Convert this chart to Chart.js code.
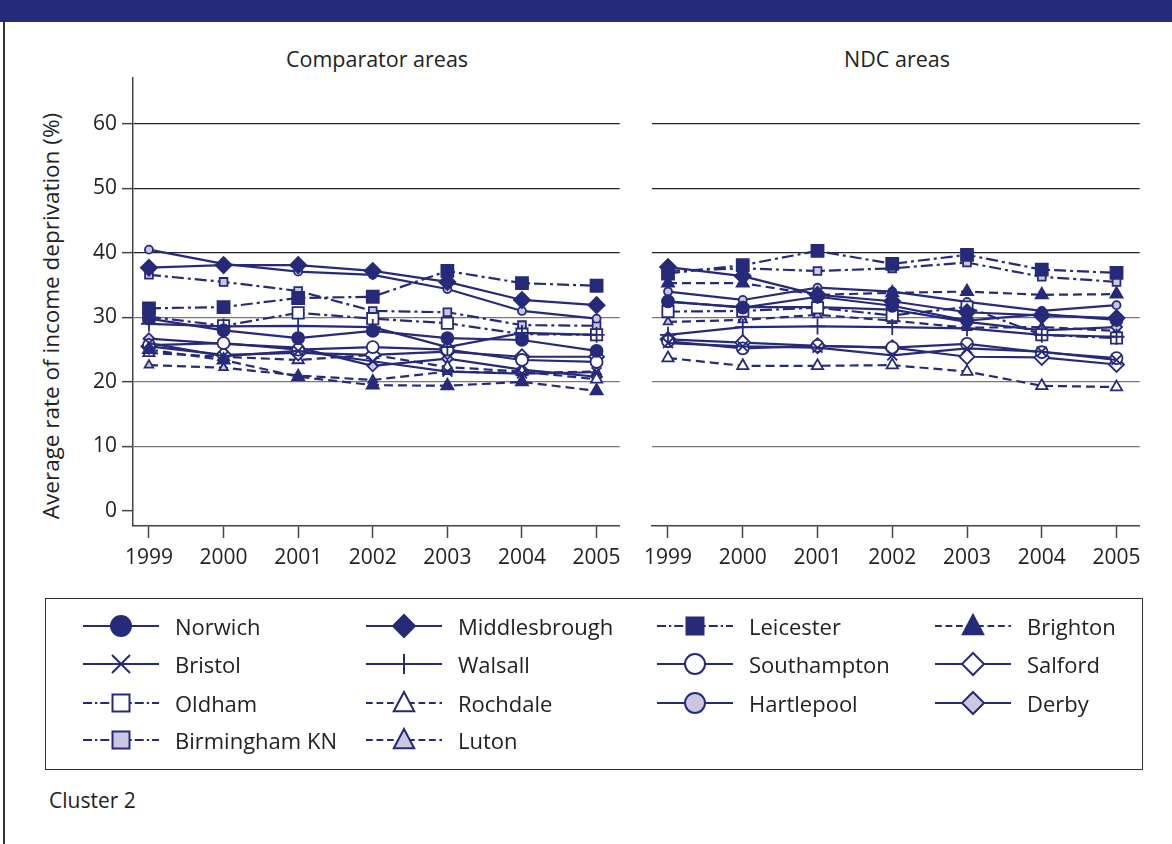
<!DOCTYPE html>
<html>
<head>
<meta charset="utf-8">
<script src="https://cdn.jsdelivr.net/npm/chart.js@4.4.0/dist/chart.umd.min.js"></script>
<style>
  body { margin: 0; width: 1172px; height: 844px; background: #fff; overflow: hidden;
         position: relative; font-family: "Open Sans", "Noto Sans", sans-serif; color: #222; }
  #topbar { position: absolute; left: 0; top: 0; width: 1172px; height: 22px; background: #262a78; }
  #leftrule { position: absolute; left: 3px; top: 22px; width: 2px; height: 822px; background: #333; }
  .panel-title { position: absolute; top: 44px; font-size: 21.5px; transform: translateX(-50%); white-space: nowrap; }
  #ytitle { position: absolute; left: 50px; top: 316px; font-size: 22.5px; white-space: nowrap;
            transform: translate(-50%, -50%) rotate(-90deg); }
  canvas { position: absolute; top: 0; }
  #legend { position: absolute; left: 45px; top: 598px; width: 1096px; height: 170px; border: 1.5px solid #333; }
  .lg-item { position: absolute; height: 30px; display: flex; align-items: center; font-size: 22px; white-space: nowrap; }
  .lg-item canvas { position: static; margin-right: 16px; }
  #cluster { position: absolute; left: 49px; top: 786px; font-size: 21px; }
</style>
</head>
<body>
<div id="topbar"></div>
<div id="leftrule"></div>
<div class="panel-title" style="left:377px">Comparator areas</div>
<div class="panel-title" style="left:897px">NDC areas</div>
<div id="ytitle">Average rate of income deprivation (%)</div>
<canvas id="cmp" width="630" height="600" style="left:0px"></canvas>
<canvas id="ndc" width="520" height="600" style="left:630px"></canvas>
<div id="legend"></div>
<div id="cluster">Cluster 2</div>

<script>
// ---- data ----
const years = [1999, 2000, 2001, 2002, 2003, 2004, 2005];
const yTicks = [0, 10, 20, 30, 40, 50, 60];

const areaNames = ['Norwich', 'Middlesbrough', 'Leicester', 'Brighton',
                   'Bristol', 'Walsall', 'Southampton', 'Salford',
                   'Oldham', 'Rochdale', 'Hartlepool', 'Derby',
                   'Birmingham KN', 'Luton'];

// comparator areas
const cmpNorwich       = [29.8, 28.0, 26.8, 27.9, 26.8, 26.5, 24.8];
const cmpMiddlesbrough = [37.7, 38.1, 38.1, 37.2, 35.5, 32.7, 31.9];
const cmpLeicester     = [31.4, 31.6, 33.0, 33.2, 37.2, 35.3, 34.9];
const cmpBrighton      = [25.0, 23.4, 20.8, 19.5, 19.4, 20.0, 18.6];
const cmpBristol       = [26.0, 24.0, 24.8, 23.2, 21.6, 21.3, 21.5];
const cmpWalsall       = [29.0, 28.6, 28.7, 28.5, 25.4, 27.6, 27.3];
const cmpSouthampton   = [25.7, 26.0, 25.0, 25.4, 25.0, 23.4, 23.1];
const cmpSalford       = [25.5, 24.2, 24.5, 24.2, 24.7, 23.9, 23.9];
const cmpOldham        = [30.1, 28.7, 30.7, 29.8, 29.1, 27.4, 27.3];
const cmpRochdale      = [24.5, 23.9, 23.4, 24.2, 22.3, 21.6, 20.4];
const cmpHartlepool    = [40.5, 38.3, 37.1, 36.6, 34.4, 31.0, 29.8];
const cmpDerby         = [26.7, 25.9, 25.3, 22.5, 23.6, 21.9, 20.8];
const cmpBirmingham    = [36.6, 35.5, 34.1, 31.0, 30.8, 28.8, 28.7];
const cmpLuton         = [22.6, 22.2, 21.0, 20.3, 21.6, 21.4, 21.6];

// NDC areas
const ndcNorwich       = [32.5, 31.5, 33.2, 31.8, 29.5, 30.5, 29.6];
const ndcMiddlesbrough = [37.8, 36.4, 33.5, 32.5, 30.8, 30.3, 29.9];
const ndcLeicester     = [36.8, 38.1, 40.3, 38.3, 39.7, 37.4, 36.9];
const ndcBrighton      = [35.3, 35.3, 33.5, 33.8, 34.0, 33.5, 33.6];
const ndcBristol       = [26.0, 25.5, 25.3, 24.1, 25.2, 24.7, 23.4];
const ndcWalsall       = [27.3, 28.5, 28.6, 28.5, 28.3, 27.3, 27.0];
const ndcSouthampton   = [26.3, 25.2, 25.6, 25.3, 25.9, 24.6, 23.7];
const ndcSalford       = [26.6, 26.1, 25.6, 25.3, 23.9, 23.8, 22.7];
const ndcOldham        = [30.9, 31.0, 31.5, 30.3, 31.6, 27.3, 26.8];
const ndcRochdale      = [23.7, 22.5, 22.5, 22.6, 21.6, 19.4, 19.2];
const ndcHartlepool    = [34.0, 32.7, 34.6, 34.0, 32.4, 31.0, 31.9];
const ndcDerby         = [32.4, 31.6, 31.6, 31.2, 29.3, 28.0, 28.5];
const ndcBirmingham    = [37.2, 37.6, 37.2, 37.6, 38.5, 36.3, 35.5];
const ndcLuton         = [29.3, 29.6, 30.4, 29.5, 28.4, 28.5, 27.9];

const cmpSeries = [cmpNorwich, cmpMiddlesbrough, cmpLeicester, cmpBrighton, cmpBristol, cmpWalsall,
  cmpSouthampton, cmpSalford, cmpOldham, cmpRochdale, cmpHartlepool, cmpDerby, cmpBirmingham, cmpLuton];
const ndcSeries = [ndcNorwich, ndcMiddlesbrough, ndcLeicester, ndcBrighton, ndcBristol, ndcWalsall,
  ndcSouthampton, ndcSalford, ndcOldham, ndcRochdale, ndcHartlepool, ndcDerby, ndcBirmingham, ndcLuton];

// ---- styles ----
const NAVY = '#272a79';
const LIGHT = '#c9c8e0';
const SOLID = [], DASH = [9, 5], DASHDOT = [12, 4, 3, 4];

// shape, fill, dash, radius in plot, legend size
const looks = [
  { shape: 'circle',   fill: NAVY,   dash: SOLID,   r: 6,   lr: 10 },
  { shape: 'rectRot',  fill: NAVY,   dash: SOLID,   r: 8,   lr: 11 },
  { shape: 'rect',     fill: NAVY,   dash: DASHDOT, r: 8.5, lr: 8.5 },
  { shape: 'triangle', fill: NAVY,   dash: DASH,    r: 7,   lr: 11 },
  { shape: 'crossRot', fill: NAVY,   dash: SOLID,   r: 7,   lr: 9 },
  { shape: 'cross',    fill: NAVY,   dash: SOLID,   r: 8,   lr: 10 },
  { shape: 'circle',   fill: '#fff', dash: SOLID,   r: 6,   lr: 10 },
  { shape: 'rectRot',  fill: '#fff', dash: SOLID,   r: 7.5, lr: 11 },
  { shape: 'rect',     fill: '#fff', dash: DASHDOT, r: 8,   lr: 8.5 },
  { shape: 'triangle', fill: '#fff', dash: DASH,    r: 6.5, lr: 11 },
  { shape: 'circle',   fill: LIGHT,  dash: SOLID,   r: 4,   lr: 10 },
  { shape: 'rectRot',  fill: LIGHT,  dash: SOLID,   r: 5.5, lr: 11 },
  { shape: 'rect',     fill: LIGHT,  dash: DASHDOT, r: 5.5, lr: 8.5 },
  { shape: 'triangle', fill: LIGHT,  dash: DASH,    r: 5,   lr: 11 }
];

const FONT = { family: '"Open Sans", "Noto Sans", sans-serif', size: 21 };

let make_panel = function(canvas_id, series, show_y) {
  let ctx = document.getElementById(canvas_id).getContext('2d');
  let datasets = series.map((vals, i) => ({
    label: areaNames[i],
    data: vals.map((v, j) => ({ x: years[j], y: v })),
    borderColor: NAVY,
    borderWidth: 2.2,
    borderDash: looks[i].dash,
    tension: 0,
    fill: false,
    pointStyle: looks[i].shape,
    pointRadius: looks[i].r,
    pointBackgroundColor: looks[i].fill,
    pointBorderColor: NAVY,
    pointBorderWidth: 1.8
  }));

  return new Chart(ctx, {
    type: 'line',
    data: { datasets: datasets },
    options: {
      responsive: false,
      animation: false,
      layout: { padding: { left: 0, right: 10, top: 78, bottom: 0 } },
      plugins: { legend: { display: false }, tooltip: { enabled: false } },
      scales: {
        x: {
          type: 'linear',
          min: 1998.786, max: 2005.31,
          afterBuildTicks: s => { s.ticks = years.map(v => ({ value: v })); },
          afterFit: s => { s.height = 74; },
          ticks: { font: FONT, color: '#222', padding: 7, maxRotation: 0, callback: v => String(v) },
          grid: { drawOnChartArea: false, drawTicks: true, tickLength: 12, tickColor: '#444', tickWidth: 1.5 },
          border: { display: true, color: '#444', width: 1.5 }
        },
        y: {
          min: -2.33, max: 67.1,
          afterBuildTicks: s => { s.ticks = yTicks.map(v => ({ value: v })); },
          afterFit: s => { s.width = show_y ? 133 : 22; },
          ticks: { display: show_y, font: FONT, color: '#222', padding: 5 },
          grid: {
            color: c => (c.tick && c.tick.value === 0) ? 'rgba(0,0,0,0)' : (c.tick && c.tick.value >= 40 ? '#222' : '#777'),
            lineWidth: 1.3,
            drawTicks: show_y, tickLength: 11, tickColor: '#444', tickWidth: 1.5
          },
          border: { display: show_y, color: '#444', width: 1.5 }
        }
      }
    }
  });
};

make_panel('cmp', cmpSeries, true);
make_panel('ndc', ndcSeries, false);

// ---- legend (html, symbols drawn from the same looks) ----
let draw_marker = function(c, shape, r, x, y) {
  c.beginPath();
  if (shape === 'circle') {
    c.arc(x, y, r, 0, Math.PI * 2);
  } else if (shape === 'rect') {
    c.rect(x - r, y - r, 2 * r, 2 * r);
  } else if (shape === 'rectRot') {
    c.moveTo(x, y - r); c.lineTo(x + r, y); c.lineTo(x, y + r); c.lineTo(x - r, y); c.closePath();
  } else if (shape === 'triangle') {
    c.moveTo(x, y - r); c.lineTo(x + r * 0.93, y + r * 0.75); c.lineTo(x - r * 0.93, y + r * 0.75); c.closePath();
  } else if (shape === 'crossRot') {
    c.moveTo(x - r, y - r); c.lineTo(x + r, y + r); c.moveTo(x + r, y - r); c.lineTo(x - r, y + r);
    c.stroke(); return;
  } else if (shape === 'cross') {
    c.moveTo(x - r, y); c.lineTo(x + r, y); c.moveTo(x, y - r); c.lineTo(x, y + r);
    c.stroke(); return;
  }
  c.fill(); c.stroke();
};

const legendCols = [37, 320, 611, 889];
const legendRows = [12, 50, 89, 126];
let legend = document.getElementById('legend');
areaNames.forEach((name, i) => {
  let item = document.createElement('div');
  item.className = 'lg-item';
  item.style.left = legendCols[i % 4] + 'px';
  item.style.top = legendRows[Math.floor(i / 4)] + 'px';
  let cv = document.createElement('canvas');
  cv.width = 76; cv.height = 30;
  let c = cv.getContext('2d');
  c.strokeStyle = NAVY; c.lineWidth = 1.8;
  c.setLineDash(looks[i].dash.length ? looks[i].dash.map(d => d * 0.75) : []);
  c.beginPath(); c.moveTo(0, 15); c.lineTo(76, 15); c.stroke();
  c.setLineDash([]);
  c.fillStyle = looks[i].fill; c.lineWidth = 2;
  draw_marker(c, looks[i].shape, looks[i].lr, 38, 15);
  item.appendChild(cv);
  let t = document.createElement('span');
  t.textContent = name;
  item.appendChild(t);
  legend.appendChild(item);
});
</script>
</body>
</html>
